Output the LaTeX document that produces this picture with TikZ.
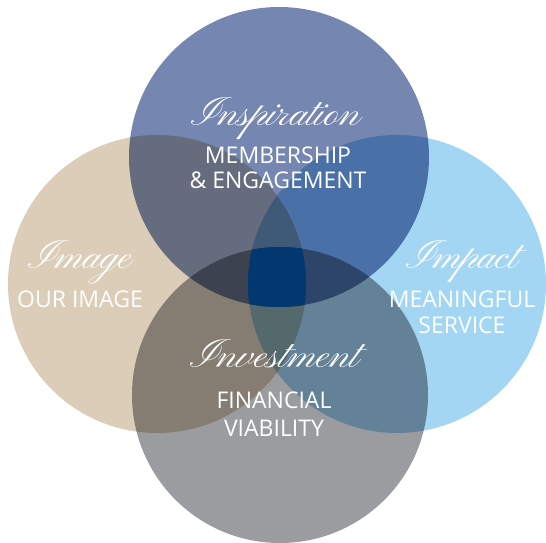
\documentclass[tikz,border=0pt]{standalone}
\usepackage{fontspec}
\setmainfont{Open Sans}
\newfontfamily\scriptfam{Pinyon Script}
\usepackage{xcolor}
\usepackage{tikz}
\usetikzlibrary{positioning}

\definecolor{inspcol}{RGB}{117,135,176}
\definecolor{imagecol}{RGB}{219,205,183}
\definecolor{impactcol}{RGB}{163,214,242}
\definecolor{investcol}{RGB}{155,156,160}
\definecolor{corecol}{RGB}{2,55,112}

\tikzset{
  title/.style={anchor=base, text=white, inner sep=0pt,
    font=\scriptfam\fontsize{41}{41}\selectfont},
  caption/.style={anchor=base, text=white, inner sep=0pt,
    font=\fontsize{23}{25}\selectfont}
}

\begin{document}
\begin{tikzpicture}[x=1pt, y=-1pt]

    \useasboundingbox (0, 0) rectangle (546, 543);

    \begin{scope}[blend group=multiply]
      \fill [inspcol] (279, 157) circle (150);
      \fill [imagecol] (157, 284) circle (149);
      \fill [impactcol] (397, 284) circle (149);
      \fill [investcol] (280, 395) circle (148);
    \end{scope}

    \begin{scope}
      \clip (279, 157) circle (150);
      \clip (157, 284) circle (149);
      \clip (397, 284) circle (149);
      \clip (280, 395) circle (148);
      \fill [corecol] (157, 157) rectangle (397, 395);
    \end{scope}

    \node [title] (insp) at (276, 125) {Inspiration};
    \node [caption] (insp-a) at (278, 163) {MEMBERSHIP};
    \node [caption] (insp-b) at (278, 188) {\&~ENGAGEMENT};

    \node [title] (img) at (80, 268) {Image};
    \node [caption] (img-a) at (80, 307) {OUR IMAGE};

    \node [title] (imp) at (462, 268) {Impact};
    \node [caption] (imp-a) at (462, 307) {MEANINGFUL};
    \node [caption] (imp-b) at (462, 333) {SERVICE};

    \node [title] (inv) at (275, 367) {Investment};
    \node [caption] (inv-a) at (274, 408) {FINANCIAL};
    \node [caption] (inv-b) at (274, 436) {VIABILITY};

  \end{tikzpicture}
\end{document}
